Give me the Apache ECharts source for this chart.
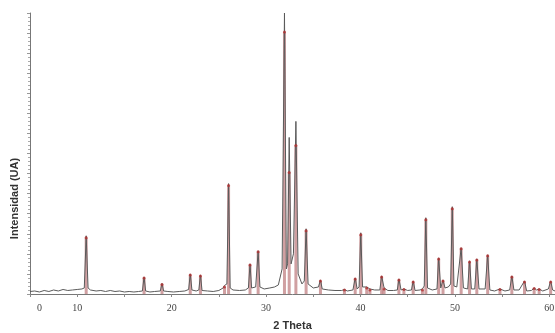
<!DOCTYPE html>
<html>
<head>
<meta charset="utf-8">
<script src="https://cdn.jsdelivr.net/npm/echarts@6/dist/echarts.min.js"></script>
<style>
  html, body { margin: 0; padding: 0; background: #fff; }
  #xrdChart { width: 555px; height: 333px; }
</style>
</head>
<body>
<div id="xrdChart"></div>
<script>
// patron medido (2 theta, cuentas)
var obsTheta = [
    5.0, 5.5, 6.0, 6.5, 7.0, 7.5, 8.0, 8.5, 9.0, 9.5, 10.0, 10.5, 10.75, 10.95, 11.15, 11.4,
    12.0, 12.5, 13.0, 13.5, 14.0, 14.5, 15.0, 15.5, 16.0, 16.5, 16.9, 17.08, 17.25, 17.7,
    18.2, 18.8, 18.98, 19.15, 19.6, 20.2, 20.8, 21.4, 21.8, 21.97, 22.15, 22.6, 22.88, 23.05, 23.22,
    23.8, 24.4, 25.0, 25.45, 25.6, 25.85, 26.03, 26.2, 26.5, 27.2, 27.8, 28.13, 28.3, 28.47,
    28.9, 29.16, 29.35, 29.8, 30.4, 30.9, 31.3, 31.7, 31.95, 32.15, 32.28, 32.45, 32.65, 32.9,
    33.16, 33.4, 33.8, 34.05, 34.24, 34.45, 35.0, 35.55, 35.76, 35.95, 36.6, 37.3, 38.0, 38.3,
    38.6, 39.2, 39.44, 39.65, 39.85, 40.03, 40.22, 40.66, 41.0, 41.5, 42.05, 42.24, 42.5, 42.9,
    43.5, 43.9, 44.07, 44.3, 44.6, 45.0, 45.4, 45.58, 45.78, 46.3, 46.56, 46.75, 46.92, 47.1,
    47.6, 48.1, 48.28, 48.5, 48.74, 48.95, 49.3, 49.55, 49.72, 49.9, 50.2, 50.66, 50.9, 51.35,
    51.55, 51.75, 52.1, 52.32, 52.55, 53.2, 53.47, 53.7, 54.2, 54.77, 55.3, 55.8, 56.03, 56.25,
    56.8, 57.37, 57.6, 58.1, 58.39, 58.65, 58.92, 59.3, 59.9, 60.14, 60.35, 60.6
];
var obsCounts = [
    25, 30, 20, 35, 25, 40, 30, 45, 35, 40, 45, 50, 60, 580, 60, 40,
    30, 35, 25, 35, 25, 30, 20, 25, 20, 25, 30, 170, 30, 20,
    25, 30, 105, 30, 25, 20, 25, 30, 45, 200, 40, 30, 40, 190, 35,
    30, 25, 35, 60, 85, 100, 1100, 60, 40, 35, 40, 60, 300, 60,
    70, 430, 70, 50, 60, 70, 90, 250, 2800, 250, 300, 1560, 300, 400,
    1720, 200, 100, 130, 650, 100, 60, 70, 140, 50, 40, 35, 35, 45,
    30, 40, 160, 50, 70, 610, 70, 70, 50, 40, 40, 180, 60, 35,
    35, 40, 150, 40, 50, 35, 40, 130, 35, 40, 50, 80, 760, 60,
    40, 50, 360, 60, 140, 60, 70, 100, 870, 80, 70, 460, 60, 50,
    330, 50, 50, 350, 50, 50, 390, 40, 30, 50, 30, 40, 180, 40,
    40, 130, 30, 35, 60, 40, 50, 30, 50, 130, 40, 30
];

// lineas de referencia
var refTheta = [
    10.95, 17.08, 18.98, 21.97, 23.05, 25.6, 26.03, 28.3, 29.16, 31.95, 32.45, 33.16, 34.24,
    35.76, 38.3, 39.44, 40.03, 40.66, 41.0, 42.24, 42.5, 44.07, 44.6, 45.58, 46.56, 46.92,
    48.28, 48.74, 49.72, 50.66, 51.55, 52.32, 53.47, 54.77, 56.03, 57.37, 58.39, 58.92, 60.14
];
var refCounts = [
    560, 160, 95, 190, 180, 70, 1080, 290, 420, 2610, 1210, 1480, 630,
    130, 40, 150, 590, 60, 40, 170, 50, 140, 45, 120, 40, 740,
    350, 130, 850, 450, 320, 340, 380, 45, 170, 120, 55, 45, 120
];

var xTickValues = [6, 10, 20, 30, 40, 50, 60];
var xTickLabels = ['0', '10', '20', '30', '40', '50', '60'];

(function() {
    var chart = echarts.init(document.getElementById('xrdChart'));
    var obsData = [], refData = [], i;

    for (i = 0; i < obsTheta.length; i++) {
        obsData.push([obsTheta[i], obsCounts[i]]);
    }
    for (i = 0; i < refTheta.length; i++) {
        refData.push([refTheta[i], refCounts[i]]);
    }

    chart.setOption({
        animation: false,
        backgroundColor: '#fff',
        grid: { left: 30, right: 0, top: 13, bottom: 39, outerBoundsMode: 'none' },
        xAxis: {
            type: 'value',
            min: 5,
            max: 60.6,
            interval: 5,
            name: '2 Theta',
            nameLocation: 'middle',
            nameGap: 26,
            nameTextStyle: { fontFamily: 'Liberation Sans', fontWeight: 'bold', fontSize: 11, color: '#333' },
            axisLine: { lineStyle: { color: '#777', width: 1 } },
            axisTick: { show: true, length: 3, lineStyle: { color: '#888' } },
            axisLabel: {
                customValues: xTickValues,
                formatter: function(v) {
                    var k = xTickValues.indexOf(v);
                    return k >= 0 ? xTickLabels[k] : '';
                },
                fontFamily: 'Liberation Sans Narrow',
                fontSize: 10,
                color: '#444',
                margin: 9
            },
            splitLine: { show: false }
        },
        yAxis: {
            type: 'value',
            min: 0,
            max: 2800,
            interval: 200,
            name: 'Intensidad (UA)',
            nameLocation: 'middle',
            nameGap: 10,
            nameTextStyle: { fontFamily: 'Liberation Sans', fontWeight: 'bold', fontSize: 11, color: '#333', padding: [0, 90, 0, 0] },
            axisLine: { show: true, lineStyle: { color: '#777', width: 1 } },
            axisTick: { show: true, length: 3, lineStyle: { color: '#999' } },
            minorTick: { show: true, splitNumber: 5, length: 2, lineStyle: { color: '#aaa' } },
            axisLabel: { show: false },
            splitLine: { show: false }
        },
        series: [
            {
                name: 'ref',
                type: 'bar',
                barWidth: 3,
                itemStyle: { color: 'rgba(176, 96, 100, 0.6)' },
                data: refData,
                z: 1
            },
            {
                name: 'obs',
                type: 'line',
                showSymbol: false,
                lineStyle: { color: '#5a5a5a', width: 1 },
                data: obsData,
                z: 2
            },
            {
                name: 'refTop',
                type: 'scatter',
                symbol: 'circle',
                symbolSize: 3,
                itemStyle: { color: '#b03030' },
                data: refData,
                z: 3
            }
        ]
    });
})();
</script>
</body>
</html>
